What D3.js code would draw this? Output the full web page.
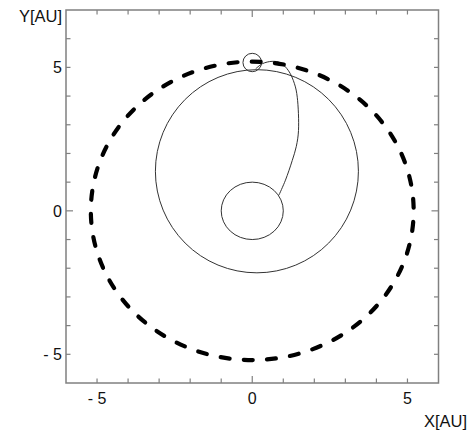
<!DOCTYPE html>
<html><head><meta charset="utf-8">
<script src="https://d3js.org/d3.v7.min.js"></script>
<style>body{margin:0;background:#fff}svg{display:block}text{font-family:Arial,"Liberation Sans",sans-serif;fill:#111}</style>
</head><body><div id="c"></div>
<script>
// Axis definitions
const xDomain = [-6, 6];
const yDomain = [-6, 7];
const tickValues = [-6,-5,-4,-3,-2,-1,0,1,2,3,4,5,6,7];
const labeledTicks = [-5, 0, 5];
const tickLabels = ["- 5", "0", "5"];

// Orbits: [cx, cy, rx, ry] in AU
const jupiterOrbit = [0, 0, 5.2, 5.2];
const earthOrbit = [0, 0, 1.0, 1.0];
const transferOrbit = [0.15, 1.38, 3.27, 3.54];
const jupiterMarker = [0, 5.17, 0.3, 0.32];

// Spacecraft trajectory
const trajX = [0.11, 0.33, 0.64, 0.91, 1.17, 1.36, 1.45, 1.49, 1.42, 1.29, 1.07, 0.86];
const trajY = [4.95, 5.13, 5.21, 5.16, 4.88, 4.43, 3.96, 2.80, 2.25, 1.76, 1.07, 0.55];

const W = 473, H = 430;
const m = {l: 66, r: 438.5, t: 10, b: 383};
const svg = d3.select("#c").append("svg").attr("width", W).attr("height", H);
const x = d3.scaleLinear().domain(xDomain).range([m.l, m.r]);
const y = d3.scaleLinear().domain(yDomain).range([m.b, m.t]);

function ell(o) {
  return svg.append("ellipse")
    .attr("cx", x(o[0])).attr("cy", y(o[1]))
    .attr("rx", x(o[2]) - x(0)).attr("ry", y(0) - y(o[3]))
    .attr("fill", "none");
}

ell(earthOrbit).attr("stroke", "#333").attr("stroke-width", 1);
ell(transferOrbit).attr("stroke", "#333").attr("stroke-width", 1);
ell(jupiterMarker).attr("stroke", "#333").attr("stroke-width", 1);

const traj = trajX.map((v, i) => [v, trajY[i]]);
svg.append("path").datum(traj)
  .attr("d", d3.line().x(d => x(d[0])).y(d => y(d[1])).curve(d3.curveCatmullRom.alpha(0.5)))
  .attr("fill", "none").attr("stroke", "#333").attr("stroke-width", 1);

// Jupiter orbit dashed
const jo = ell(jupiterOrbit).attr("stroke", "#000").attr("stroke-width", 4.2).attr("stroke-linecap", "round");
const P = jo.node().getTotalLength();
const nD = 42;
const per = P / nD, dash = 9, gap = per - dash;
const Ltop = 0.75 * P + 4;
let off = ((dash / 2 - Ltop) % per + per) % per;
jo.attr("stroke-dasharray", dash + "," + gap).attr("stroke-dashoffset", off);

// Frame
const frameC = "#808080";
svg.append("rect").attr("x", m.l).attr("y", m.t).attr("width", m.r - m.l).attr("height", m.b - m.t)
  .attr("fill", "none").attr("stroke", frameC).attr("stroke-width", 1.5);

const tl = v => (v === 0 ? 7 : 4.5);
// x ticks (bottom and top)
tickValues.filter(v => v > xDomain[0] && v < xDomain[1]).forEach(v => {
  svg.append("line").attr("x1", x(v)).attr("x2", x(v)).attr("y1", m.b).attr("y2", m.b - tl(v)).attr("stroke", frameC).attr("stroke-width", 1.2);
  svg.append("line").attr("x1", x(v)).attr("x2", x(v)).attr("y1", m.t).attr("y2", m.t + tl(v)).attr("stroke", frameC).attr("stroke-width", 1.2);
});
tickValues.filter(v => v > yDomain[0] && v < yDomain[1]).forEach(v => {
  svg.append("line").attr("y1", y(v)).attr("y2", y(v)).attr("x1", m.l).attr("x2", m.l + tl(v)).attr("stroke", frameC).attr("stroke-width", 1.2);
  svg.append("line").attr("y1", y(v)).attr("y2", y(v)).attr("x1", m.r).attr("x2", m.r - tl(v)).attr("stroke", frameC).attr("stroke-width", 1.2);
});

labeledTicks.forEach((v, i) => {
  svg.append("text").attr("x", x(v)).attr("y", 403.5).attr("text-anchor", "middle").attr("font-size", 16).text(tickLabels[i]);
  svg.append("text").attr("x", 62).attr("y", y(v) + 5.7).attr("text-anchor", "end").attr("font-size", 16).text(tickLabels[i]);
});

svg.append("text").attr("x", 62).attr("y", 21.5).attr("text-anchor", "end").attr("font-size", 16.5).text("Y[AU]");
svg.append("text").attr("x", 467).attr("y", 426.5).attr("text-anchor", "end").attr("font-size", 16.5).text("X[AU]");
</script></body></html>
